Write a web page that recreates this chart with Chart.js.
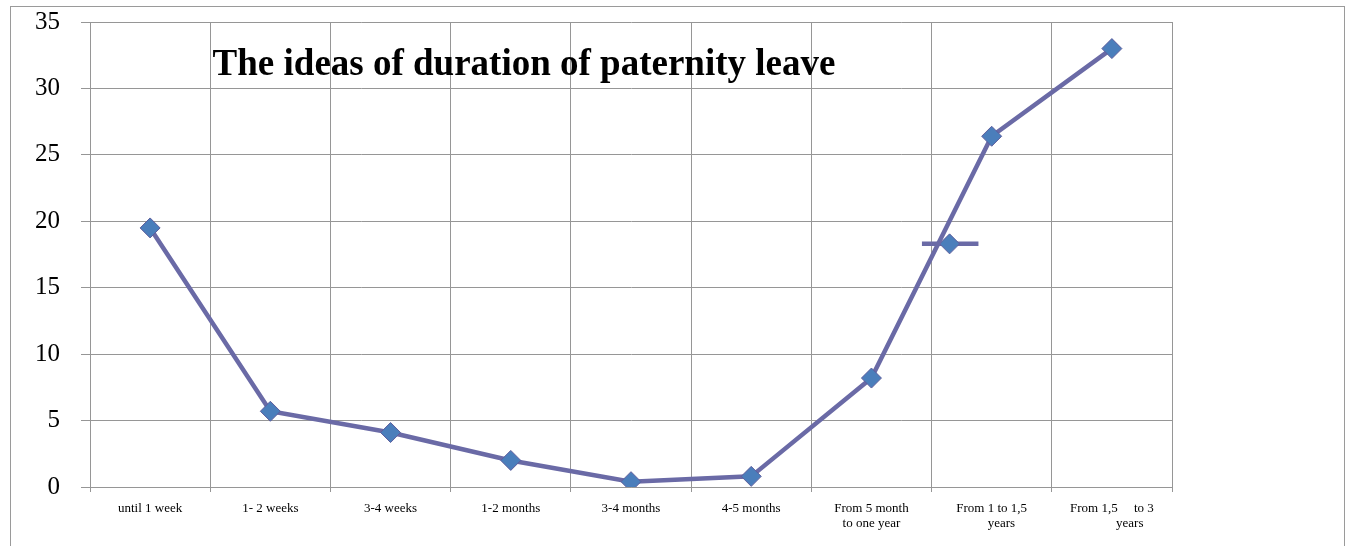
<!DOCTYPE html>
<html>
<head>
<meta charset="utf-8">
<title>The ideas of duration of paternity leave</title>
<script src="https://cdn.jsdelivr.net/npm/chart.js@4.4.0/dist/chart.umd.min.js"></script>
<style>
  html, body { margin: 0; padding: 0; background: #fff; overflow: hidden; }
  #frame {
    position: absolute; left: 10px; top: 6px; width: 1335px; height: 600px;
    border: 1px solid #9a9a9a; box-sizing: border-box;
  }
  #chart { position: absolute; left: 0; top: 0; }
</style>
</head>
<body>
<div id="frame"></div>
<canvas id="chart" width="1348" height="546"></canvas>
<script>
// categories (x axis)
const categories = [
  "until 1 week",
  "1- 2 weeks",
  "3-4 weeks",
  "1-2 months",
  "3-4 months",
  "4-5 months",
  ["From 5 month", "to one year"],
  ["From 1 to 1,5", "      years"],
  ["From 1,5     to 3", "           years"],
]

// percentage for each category
const values = [19.5, 5.7, 4.1, 2.0, 0.4, 0.8, 8.2, 26.4, 33.0]

// stray marker with its short dash (left over in the original picture)
const strayX = [6.42, 6.65, 6.89]
const strayY = [18.3, 18.3, 18.3]

const yTicks = [0, 5, 10, 15, 20, 25, 30, 35]

const titleText = "The ideas of duration of paternity leave"

const GRID = "#969696"
const serif = '"Liberation Serif", "Times New Roman", serif'

// titre dessiné à l'intérieur de la zone du graphique
const titlePlugin = {
  id: "insideTitle",
  afterDraw(chart) {
    const { ctx, chartArea } = chart
    ctx.save()
    ctx.font = "bold 37px " + serif
    ctx.fillStyle = "#000"
    ctx.textAlign = "center"
    ctx.textBaseline = "alphabetic"
    ctx.fillText(titleText, chartArea.left + 434, chartArea.top + 53)
    ctx.restore()
  },
}

const data = {
  datasets: [
    {
      label: "Paternity leave",
      data: values.map((v, i) => ({ x: i, y: v })),
      borderColor: "#6a6aa6",
      borderWidth: 4.5,
      pointStyle: "rectRot",
      pointRadius: 10,
      pointBackgroundColor: "#4a7ebb",
      pointBorderColor: "#5d5d9c",
      pointBorderWidth: 1,
      tension: 0,
    },
    {
      label: "stray",
      data: strayX.map((x, i) => ({ x: x, y: strayY[i] })),
      borderColor: "#6a6aa6",
      borderWidth: 4.5,
      pointStyle: "rectRot",
      pointRadius: [0, 10, 0],
      pointBackgroundColor: "#4a7ebb",
      pointBorderColor: "#5d5d9c",
      pointBorderWidth: 1,
    },
  ],
}

const config = {
  type: "line",
  data: data,
  plugins: [titlePlugin],
  options: {
    responsive: false,
    animation: false,
    layout: { padding: { left: 0, right: 176, top: 22, bottom: 0 } },
    plugins: {
      legend: { display: false },
      tooltip: { enabled: false },
    },
    scales: {
      x: {
        type: "linear",
        min: -0.5,
        max: categories.length - 0.5,
        afterBuildTicks(scale) {
          const t = []
          for (let k = 0; k <= categories.length * 2; k++) t.push({ value: -0.5 + k * 0.5 })
          scale.ticks = t
        },
        afterFit(scale) {
          scale.height = 59
          scale.paddingLeft = 0
          scale.paddingRight = 0
        },
        grid: {
          color: (c) => (c.tick && !Number.isInteger(c.tick.value) ? GRID : "rgba(0,0,0,0)"),
          lineWidth: 1,
          tickLength: 5,
        },
        border: { display: true, color: GRID },
        ticks: {
          autoSkip: false,
          maxRotation: 0,
          minRotation: 0,
          padding: 9,
          color: "#000",
          font: { family: serif, size: 13, lineHeight: 1.15 },
          callback: (v) => (Number.isInteger(v) ? categories[v] : ""),
        },
      },
      y: {
        min: 0,
        max: 35,
        afterBuildTicks(scale) {
          scale.ticks = yTicks.map((v) => ({ value: v }))
        },
        afterFit(scale) {
          scale.width = 90
          scale.paddingTop = 0
          scale.paddingBottom = 0
        },
        grid: { color: GRID, lineWidth: 1, tickLength: 9 },
        border: { display: true, color: GRID },
        ticks: {
          padding: 21,
          color: "#000",
          font: { family: serif, size: 25, lineHeight: 1 },
        },
      },
    },
  },
}

new Chart(document.querySelector("#chart"), config)
</script>
</body>
</html>
